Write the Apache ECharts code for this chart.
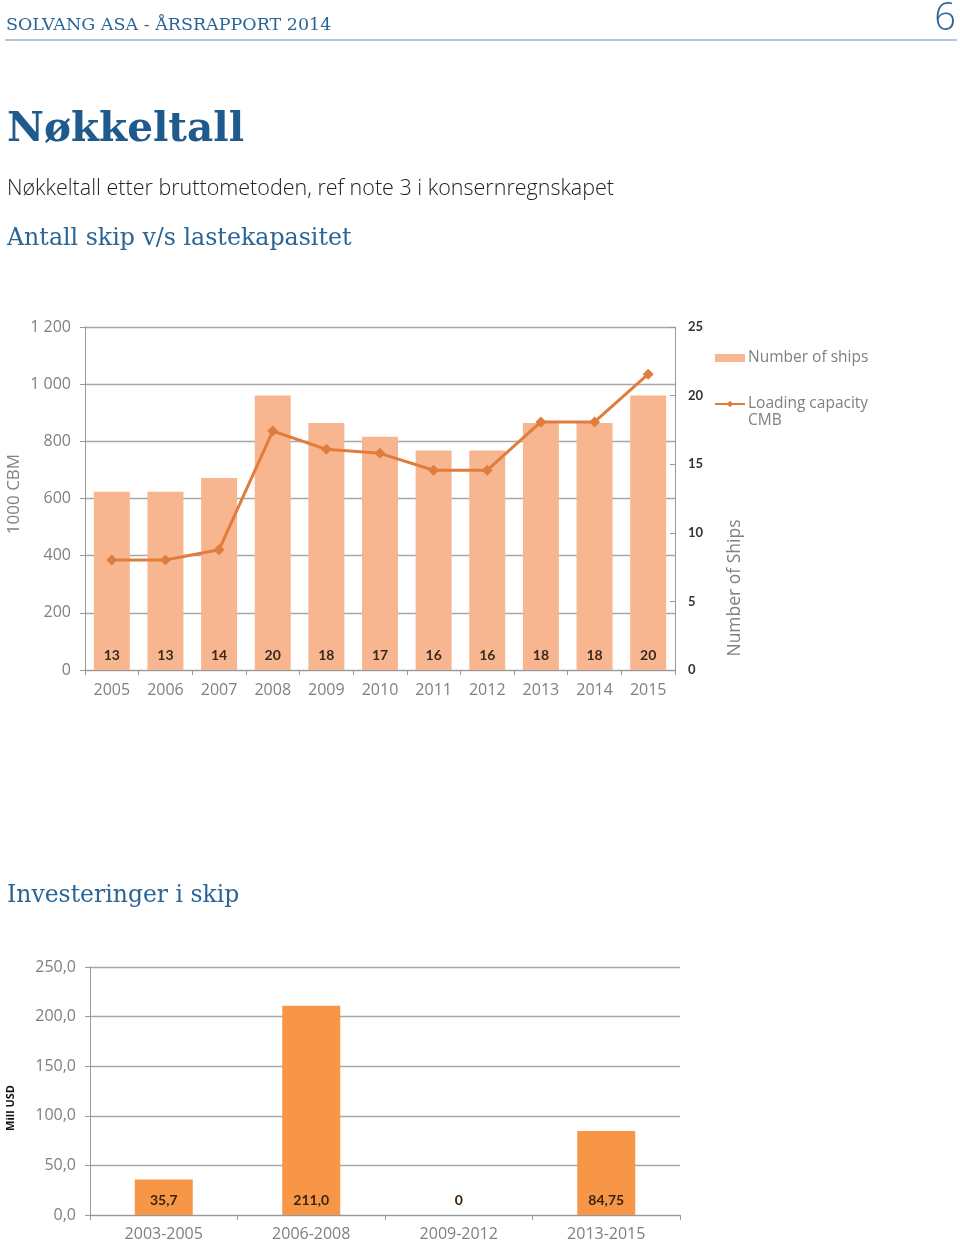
<!DOCTYPE html>
<html>
<head>
<meta charset="utf-8">
<script src="https://cdn.jsdelivr.net/npm/echarts@6/dist/echarts.min.js"></script>
<style>
html,body{margin:0;padding:0;background:#fff;}
#c{width:960px;height:1253px;}
</style>
</head>
<body>
<div id="c"></div>
<script>
// ---- Chart 1 data ----
var years = ['2005','2006','2007','2008','2009','2010','2011','2012','2013','2014','2015'];
var shipCount = [13,13,14,20,18,17,16,16,18,18,20];
var loadingCapacity = [385,385,421,836,772,758,699,699,868,868,1035];
// ---- Chart 2 data ----
var periods = ['2003-2005','2006-2008','2009-2012','2013-2015'];
var investments = [35.7,211.0,0,84.75];

var blue = '#2a6596';
var chart = echarts.init(document.getElementById('c'), null, {renderer:'canvas'});

function thousands(v){ return String(v).replace(/\B(?=(\d{3})+(?!\d))/g,' '); }
function commaDec(v){ return v.toFixed(1).replace('.', ','); }
function invLabel(v){
  if (v === 0) return '0';
  return (Number.isInteger(v) ? v.toFixed(1) : String(v)).replace('.', ',');
}

var axisLabelFont = {fontFamily:'Open Sans', fontSize:16, color:'#808080'};

var option = {
  animation:false,
  graphic:[
    {type:'text', x:6, y:25, style:{text:'SOLVANG ASA - ÅRSRAPPORT 2014', font:'17.5px "DejaVu Serif"', fill:blue, verticalAlign:'middle', align:'left'}},
    {type:'text', x:956, y:19, style:{text:'6', font:'300 38px "Open Sans"', fill:blue, verticalAlign:'middle', align:'right'}},
    {type:'line', shape:{x1:5,y1:40,x2:957,y2:40}, style:{stroke:'#6b8cab', lineWidth:1.2}},
    {type:'text', x:7, y:130, style:{text:'Nøkkeltall', font:'bold 40.5px "DejaVu Serif"', fill:'#1f5a8c', verticalAlign:'middle', align:'left'}},
    {type:'text', x:7, y:189, style:{text:'Nøkkeltall etter bruttometoden, ref note 3 i konsernregnskapet', font:'300 21.5px "Open Sans"', fill:'#222', verticalAlign:'middle', align:'left'}},
    {type:'text', x:7, y:239, style:{text:'Antall skip v/s lastekapasitet', font:'23.7px "DejaVu Serif"', fill:blue, verticalAlign:'middle', align:'left'}},
    {type:'text', x:7, y:896, style:{text:'Investeringer i skip', font:'23.5px "DejaVu Serif"', fill:blue, verticalAlign:'middle', align:'left'}},
    {type:'text', x:14, y:494, rotation:Math.PI/2, style:{text:'1000 CBM', font:'17px "Open Sans"', fill:'#808080', verticalAlign:'middle', align:'center'}},
    {type:'text', x:735, y:588, rotation:Math.PI/2, style:{text:'Number of Ships', font:'17.5px "Open Sans"', fill:'#808080', verticalAlign:'middle', align:'center'}},
    {type:'text', x:748, y:421, style:{text:'CMB', font:'15.5px "Open Sans"', fill:'#808080', verticalAlign:'middle', align:'left'}},
    {type:'text', x:11, y:1108, rotation:Math.PI/2, style:{text:'Mill USD', font:'bold 11px "Open Sans"', fill:'#111', verticalAlign:'middle', align:'center'}}
  ],
  legend:{
    orient:'vertical', left:709, top:345, itemGap:30, itemWidth:30, itemHeight:8,
    textStyle:{fontFamily:'Open Sans', fontSize:15.5, color:'#808080', padding:[0,0,0,-2]},
    data:[{name:'Number of ships', icon:'rect'}, {name:'Loading capacity'}]
  },
  grid:[
    {left:85, right:285, top:327, height:343, outerBoundsMode:'none', containLabel:false},
    {left:90, right:280, top:967, height:248, outerBoundsMode:'none', containLabel:false}
  ],
  xAxis:[
    {type:'category', gridIndex:0, data:years,
     axisLine:{lineStyle:{color:'#999', width:1}},
     axisTick:{show:true, length:5, lineStyle:{color:'#999'}},
     axisLabel:Object.assign({margin:12}, axisLabelFont)},
    {type:'category', gridIndex:1, data:periods,
     axisLine:{lineStyle:{color:'#999', width:1}},
     axisTick:{show:true, length:5, lineStyle:{color:'#999'}},
     axisLabel:Object.assign({margin:11}, axisLabelFont)}
  ],
  yAxis:[
    {type:'value', gridIndex:0, min:0, max:1200, interval:200, position:'left',
     axisLine:{show:true, lineStyle:{color:'#999'}},
     axisTick:{show:true, length:5, lineStyle:{color:'#999'}},
     splitLine:{lineStyle:{color:'#a8a8a8', width:1.3}},
     axisLabel:Object.assign({margin:14, formatter:thousands}, axisLabelFont)},
    {type:'value', gridIndex:0, min:0, max:25, interval:5, position:'right',
     axisLine:{show:true, lineStyle:{color:'#999'}},
     axisTick:{show:true, length:5, inside:true, lineStyle:{color:'#999'}},
     splitLine:{show:false},
     axisLabel:{margin:13, fontFamily:'Lato', fontWeight:'bold', fontSize:13, color:'#333'}},
    {type:'value', gridIndex:1, min:0, max:250, interval:50,
     axisLine:{show:true, lineStyle:{color:'#999'}},
     axisTick:{show:true, length:5, lineStyle:{color:'#999'}},
     splitLine:{lineStyle:{color:'#a8a8a8', width:1.3}},
     axisLabel:Object.assign({margin:14, formatter:commaDec}, axisLabelFont)}
  ],
  series:[
    {name:'Number of ships', type:'bar', xAxisIndex:0, yAxisIndex:1, data:shipCount, barWidth:36,
     itemStyle:{color:'#F8B690'}, z:2,
     label:{show:true, position:'insideBottom', distance:8, fontFamily:'Lato', fontWeight:'bold', fontSize:14, color:'#3a2a1e'}},
    {name:'Loading capacity', type:'line', xAxisIndex:0, yAxisIndex:0, data:loadingCapacity,
     symbol:'diamond', symbolSize:11, z:3,
     lineStyle:{color:'#E07D3C', width:3}, itemStyle:{color:'#E07D3C'}},
    {name:'Investeringer', type:'bar', xAxisIndex:1, yAxisIndex:2, data:investments, barWidth:58,
     itemStyle:{color:'#F79646'},
     label:{show:true, position:'insideBottom', distance:8, fontFamily:'Lato', fontWeight:'bold', fontSize:14, color:'#3a2410',
            formatter:function(p){ return invLabel(p.value); }}}
  ]
};
chart.setOption(option);
</script>
</body>
</html>
